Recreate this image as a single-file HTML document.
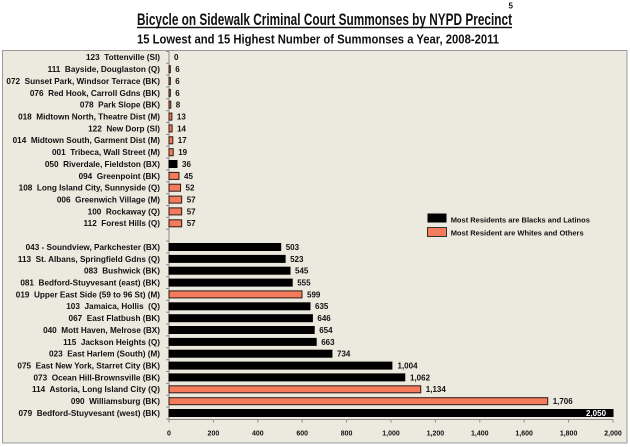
<!DOCTYPE html>
<html><head><meta charset="utf-8"><style>
html,body{margin:0;padding:0;background:#fff;}
svg{display:block;}
text{font-family:"Liberation Sans",Arial,sans-serif;font-weight:bold;fill:#111;white-space:pre;}
.c{font-size:8.2px;text-anchor:end;}
.v{font-size:8px;}
.t{font-size:7px;text-anchor:middle;}
.o{fill:#F47B5C;stroke:#2a1a14;stroke-width:1;}
.b{fill:#000;stroke:#000;stroke-width:1;}
</style></head><body>
<svg width="630" height="447" viewBox="0 0 630 447" xmlns="http://www.w3.org/2000/svg" xml:space="preserve">
<rect x="0" y="0" width="630" height="447" fill="#fff"/>
<text x="137" y="25" font-size="17" textLength="375" lengthAdjust="spacingAndGlyphs">Bicycle on Sidewalk Criminal Court Summonses by NYPD Precinct</text>
<rect x="137" y="26.8" width="375" height="1.4" fill="#111"/>
<text x="508.5" y="8.5" font-size="8">5</text>
<text x="137" y="43.3" font-size="12.6" textLength="362" lengthAdjust="spacingAndGlyphs">15 Lowest and 15 Highest Number of Summonses a Year, 2008-2011</text>
<rect x="2.5" y="50.5" width="624.5" height="392.5" fill="#ECE9DF" stroke="#9a9a9a" stroke-width="1"/>
<line x1="169" y1="51.4" x2="169" y2="419.5" stroke="#8a8a8a" stroke-width="1"/>
<line x1="169" y1="419.5" x2="613" y2="419.5" stroke="#8a8a8a" stroke-width="1"/>
<g stroke="#8a8a8a" stroke-width="1">
<line x1="213.4" y1="419.5" x2="213.4" y2="422.5"/><line x1="257.8" y1="419.5" x2="257.8" y2="422.5"/><line x1="302.2" y1="419.5" x2="302.2" y2="422.5"/><line x1="346.6" y1="419.5" x2="346.6" y2="422.5"/><line x1="391" y1="419.5" x2="391" y2="422.5"/><line x1="435.4" y1="419.5" x2="435.4" y2="422.5"/><line x1="479.8" y1="419.5" x2="479.8" y2="422.5"/><line x1="524.2" y1="419.5" x2="524.2" y2="422.5"/><line x1="568.6" y1="419.5" x2="568.6" y2="422.5"/><line x1="613" y1="419.5" x2="613" y2="422.5"/><line x1="169" y1="419.5" x2="169" y2="422.5"/>
<line x1="166" y1="51.4" x2="169" y2="51.4"/><line x1="166" y1="63.2" x2="169" y2="63.2"/><line x1="166" y1="75.1" x2="169" y2="75.1"/><line x1="166" y1="86.9" x2="169" y2="86.9"/><line x1="166" y1="98.8" x2="169" y2="98.8"/><line x1="166" y1="110.7" x2="169" y2="110.7"/><line x1="166" y1="122.5" x2="169" y2="122.5"/><line x1="166" y1="134.4" x2="169" y2="134.4"/><line x1="166" y1="146.2" x2="169" y2="146.2"/><line x1="166" y1="158.1" x2="169" y2="158.1"/><line x1="166" y1="169.9" x2="169" y2="169.9"/><line x1="166" y1="181.8" x2="169" y2="181.8"/><line x1="166" y1="193.7" x2="169" y2="193.7"/><line x1="166" y1="205.5" x2="169" y2="205.5"/><line x1="166" y1="217.4" x2="169" y2="217.4"/><line x1="166" y1="229.2" x2="169" y2="229.2"/><line x1="166" y1="241.1" x2="169" y2="241.1"/><line x1="166" y1="252.9" x2="169" y2="252.9"/><line x1="166" y1="264.8" x2="169" y2="264.8"/><line x1="166" y1="276.7" x2="169" y2="276.7"/><line x1="166" y1="288.5" x2="169" y2="288.5"/><line x1="166" y1="300.4" x2="169" y2="300.4"/><line x1="166" y1="312.2" x2="169" y2="312.2"/><line x1="166" y1="324.1" x2="169" y2="324.1"/><line x1="166" y1="335.9" x2="169" y2="335.9"/><line x1="166" y1="347.8" x2="169" y2="347.8"/><line x1="166" y1="359.7" x2="169" y2="359.7"/><line x1="166" y1="371.5" x2="169" y2="371.5"/><line x1="166" y1="383.4" x2="169" y2="383.4"/><line x1="166" y1="395.2" x2="169" y2="395.2"/><line x1="166" y1="407.1" x2="169" y2="407.1"/><line x1="166" y1="419" x2="169" y2="419"/>
</g>
<text class="c" x="160" y="60.2">123  Tottenville (SI)</text>
<text class="c" x="160" y="72.1">111  Bayside, Douglaston (Q)</text>
<text class="c" x="160" y="83.9">072  Sunset Park, Windsor Terrace (BK)</text>
<text class="c" x="160" y="95.8">076  Red Hook, Carroll Gdns (BK)</text>
<text class="c" x="160" y="107.6">078  Park Slope (BK)</text>
<text class="c" x="160" y="119.5">018  Midtown North, Theatre Dist (M)</text>
<text class="c" x="160" y="131.3">122  New Dorp (SI)</text>
<text class="c" x="160" y="143.2">014  Midtown South, Garment Dist (M)</text>
<text class="c" x="160" y="155.1">001  Tribeca, Wall Street (M)</text>
<text class="c" x="160" y="166.9">050  Riverdale, Fieldston (BX)</text>
<text class="c" x="160" y="178.8">094  Greenpoint (BK)</text>
<text class="c" x="160" y="190.6">108  Long Island City, Sunnyside (Q)</text>
<text class="c" x="160" y="202.5">006  Greenwich Village (M)</text>
<text class="c" x="160" y="214.3">100  Rockaway (Q)</text>
<text class="c" x="160" y="226.2">112  Forest Hills (Q)</text>
<text class="c" x="160" y="249.9">043 - Soundview, Parkchester (BX)</text>
<text class="c" x="160" y="261.8">113  St. Albans, Springfield Gdns (Q)</text>
<text class="c" x="160" y="273.6">083  Bushwick (BK)</text>
<text class="c" x="160" y="285.5">081  Bedford-Stuyvesant (east) (BK)</text>
<text class="c" x="160" y="297.3">019  Upper East Side (59 to 96 St) (M)</text>
<text class="c" x="160" y="309.2">103  Jamaica, Hollis  (Q)</text>
<text class="c" x="160" y="321.1">067  East Flatbush (BK)</text>
<text class="c" x="160" y="332.9">040  Mott Haven, Melrose (BX)</text>
<text class="c" x="160" y="344.8">115  Jackson Heights (Q)</text>
<text class="c" x="160" y="356.6">023  East Harlem (South) (M)</text>
<text class="c" x="160" y="368.5">075  East New York, Starret City (BK)</text>
<text class="c" x="160" y="380.3">073  Ocean Hill-Brownsville (BK)</text>
<text class="c" x="160" y="392.2">114  Astoria, Long Island City (Q)</text>
<text class="c" x="160" y="404.1">090  Williamsburg (BK)</text>
<text class="c" x="160" y="415.9">079  Bedford-Stuyvesant (west) (BK)</text>
<rect class="o" x="169" y="65.7" width="1.33" height="7"/>
<rect class="o" x="169" y="77.5" width="1.33" height="7"/>
<rect class="o" x="169" y="89.4" width="1.33" height="7"/>
<rect class="o" x="169" y="101.2" width="1.78" height="7"/>
<rect class="o" x="169" y="113.1" width="2.89" height="7"/>
<rect class="o" x="169" y="124.9" width="3.11" height="7"/>
<rect class="o" x="169" y="136.8" width="3.77" height="7"/>
<rect class="o" x="169" y="148.7" width="4.22" height="7"/>
<rect class="b" x="169" y="160.5" width="7.99" height="7"/>
<rect class="o" x="169" y="172.4" width="9.99" height="7"/>
<rect class="o" x="169" y="184.2" width="11.54" height="7"/>
<rect class="o" x="169" y="196.1" width="12.65" height="7"/>
<rect class="o" x="169" y="207.9" width="12.65" height="7"/>
<rect class="o" x="169" y="219.8" width="12.65" height="7"/>
<rect class="b" x="169" y="243.5" width="111.67" height="7"/>
<rect class="b" x="169" y="255.4" width="116.1" height="7"/>
<rect class="b" x="169" y="267.2" width="120.99" height="7"/>
<rect class="b" x="169" y="279.1" width="123.21" height="7"/>
<rect class="o" x="169" y="290.9" width="132.98" height="7"/>
<rect class="b" x="169" y="302.8" width="140.97" height="7"/>
<rect class="b" x="169" y="314.7" width="143.41" height="7"/>
<rect class="b" x="169" y="326.5" width="145.19" height="7"/>
<rect class="b" x="169" y="338.4" width="147.19" height="7"/>
<rect class="b" x="169" y="350.2" width="162.95" height="7"/>
<rect class="b" x="169" y="362.1" width="222.89" height="7"/>
<rect class="b" x="169" y="373.9" width="235.76" height="7"/>
<rect class="o" x="169" y="385.8" width="251.75" height="7"/>
<rect class="o" x="169" y="397.7" width="378.73" height="7"/>
<rect class="b" x="169" y="409.5" width="444" height="7"/>
<text class="v" x="174" y="60.2">0</text>
<text class="v" x="175.3" y="72.1">6</text>
<text class="v" x="175.3" y="83.9">6</text>
<text class="v" x="175.3" y="95.8">6</text>
<text class="v" x="175.8" y="107.6">8</text>
<text class="v" x="176.9" y="119.5">13</text>
<text class="v" x="177.1" y="131.3">14</text>
<text class="v" x="177.8" y="143.2">17</text>
<text class="v" x="178.2" y="155.1">19</text>
<text class="v" x="182" y="166.9">36</text>
<text class="v" x="184" y="178.8">45</text>
<text class="v" x="185.5" y="190.6">52</text>
<text class="v" x="186.7" y="202.5">57</text>
<text class="v" x="186.7" y="214.3">57</text>
<text class="v" x="186.7" y="226.2">57</text>
<text class="v" x="285.7" y="249.9">503</text>
<text class="v" x="290.1" y="261.8">523</text>
<text class="v" x="295" y="273.6">545</text>
<text class="v" x="297.2" y="285.5">555</text>
<text class="v" x="307" y="297.3">599</text>
<text class="v" x="315" y="309.2">635</text>
<text class="v" x="317.4" y="321.1">646</text>
<text class="v" x="319.2" y="332.9">654</text>
<text class="v" x="321.2" y="344.8">663</text>
<text class="v" x="337" y="356.6">734</text>
<text class="v" x="397.5" y="368.5">1,004</text>
<text class="v" x="410" y="380.3">1,062</text>
<text class="v" x="425.8" y="392.2">1,134</text>
<text class="v" x="552.7" y="404.1">1,706</text>
<text class="v" x="586" y="415.9" style="fill:#fff">2,050</text>
<text class="t" x="169" y="435.5">0</text>
<text class="t" x="213.4" y="435.5">200</text>
<text class="t" x="257.8" y="435.5">400</text>
<text class="t" x="302.2" y="435.5">600</text>
<text class="t" x="346.6" y="435.5">800</text>
<text class="t" x="391" y="435.5">1,000</text>
<text class="t" x="435.4" y="435.5">1,200</text>
<text class="t" x="479.8" y="435.5">1,400</text>
<text class="t" x="524.2" y="435.5">1,600</text>
<text class="t" x="568.6" y="435.5">1,800</text>
<text class="t" x="613" y="435.5">2,000</text>
<rect x="427.5" y="213.5" width="19" height="9" fill="#000"/>
<rect x="427.5" y="227.5" width="19" height="9" fill="#F47B5C" stroke="#333" stroke-width="1"/>
<text x="450.7" y="222.5" font-size="7.5">Most Residents are Blacks and Latinos</text>
<text x="450.7" y="235.5" font-size="7.5">Most Resident are Whites and Others</text>
</svg>
</body></html>
